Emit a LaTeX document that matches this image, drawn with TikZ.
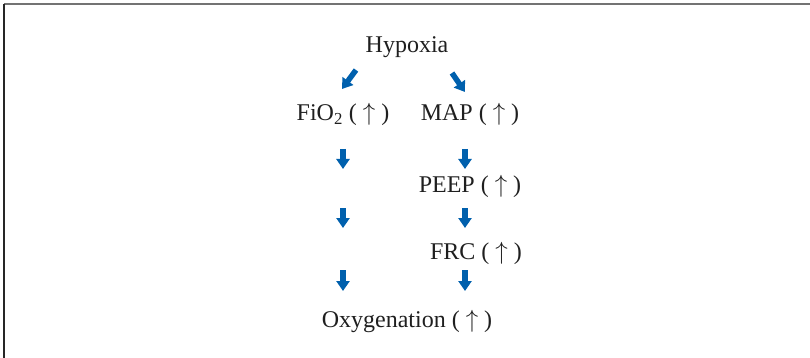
\documentclass[tikz,border=0pt]{standalone}
\usepackage{fontspec}
\setmainfont{Liberation Serif}
\usetikzlibrary{arrows.meta}
\definecolor{arrblue}{HTML}{0060AD}
\newcommand{\upar}{( $\uparrow$ )}

\begin{document}
\begin{tikzpicture}[
  x=1pt, y=-1pt,
  lbl/.style={font=\fontsize{24}{28}\selectfont, text=black!88, inner sep=1pt, anchor=base},
  blk/.style={-{Triangle[width=13pt,length=10pt]}, line width=5.5pt, draw=arrblue},
  frm/.style={line width=1.3pt},
]
\useasboundingbox (0,0) rectangle (810,358);

%% ============ frame ============
\draw[frm, draw=black!55] (4,4) -- (810,4);
\draw[frm, draw=black!85] (4,4) -- (4,358);

%% ============ labels ============
\node[lbl] (hyp) at (407,53) {Hypoxia};
\node[lbl] (fio) at (343,121) {FiO\textsubscript{2} \upar};
\node[lbl] (map) at (470,121) {MAP \upar};
\node[lbl] (peep) at (470,192) {PEEP \upar};
\node[lbl] (frc) at (476,259) {FRC \upar};
\node[lbl] (oxy) at (407,327) {Oxygenation \upar};

%% ============ arrow ends ============
\coordinate (hl0) at (356,70);  \coordinate (hl1) at (342,89);
\coordinate (hr0) at (452,73);  \coordinate (hr1) at (465,92);
\coordinate (la0) at (343,149); \coordinate (la1) at (343,169);
\coordinate (lb0) at (343,208); \coordinate (lb1) at (343,228);
\coordinate (lc0) at (343,270); \coordinate (lc1) at (343,291);
\coordinate (ra0) at (465,149); \coordinate (ra1) at (465,169);
\coordinate (rb0) at (465,208); \coordinate (rb1) at (465,228);
\coordinate (rc0) at (465,270); \coordinate (rc1) at (465,291);

%% ============ flows ============
\draw[blk] (hl0) -- (hl1);
\draw[blk] (hr0) -- (hr1);
% FiO2 branch
\draw[blk] (la0) -- (la1);
\draw[blk] (lb0) -- (lb1);
\draw[blk] (lc0) -- (lc1);
% MAP branch
\draw[blk] (ra0) -- (ra1);
\draw[blk] (rb0) -- (rb1);
\draw[blk] (rc0) -- (rc1);

\end{tikzpicture}
\end{document}
